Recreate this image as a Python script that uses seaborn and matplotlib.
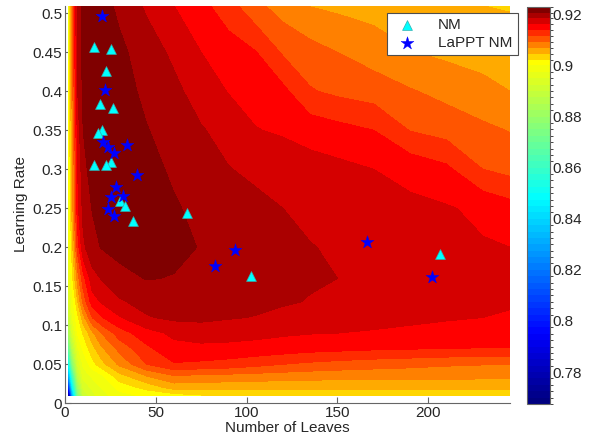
import numpy as np
import matplotlib
matplotlib.use("Agg")
import matplotlib.pyplot as plt
from matplotlib.colors import ListedColormap, BoundaryNorm
import seaborn as sns

# grid of the surface (x = number of leaves, y = learning rate)
leaves = [2, 4, 7, 10, 15, 20, 30, 45, 60, 75, 90, 105, 120, 135, 150, 170, 190, 210, 230, 245]
rates = [0.01, 0.02, 0.035, 0.05, 0.07, 0.09, 0.11, 0.13, 0.16, 0.2, 0.25, 0.3, 0.35, 0.4, 0.45, 0.51]

# accuracy, one row per learning rate
acc = [
    [0.768, 0.830, 0.875, 0.890, 0.894, 0.8965, 0.899, 0.9005, 0.9012, 0.9021, 0.9024, 0.9026, 0.9028, 0.9029, 0.903, 0.903, 0.903, 0.903, 0.903, 0.903],
    [0.800, 0.845, 0.880, 0.893, 0.8955, 0.8975, 0.9009, 0.903, 0.9055, 0.9054, 0.9053, 0.9052, 0.9051, 0.9051, 0.905, 0.905, 0.905, 0.9051, 0.9051, 0.9051],
    [0.830, 0.860, 0.888, 0.896, 0.898, 0.8995, 0.9037, 0.9069, 0.909, 0.9087, 0.9085, 0.9083, 0.9081, 0.9079, 0.9078, 0.9077, 0.9076, 0.9076, 0.9075, 0.9075],
    [0.850, 0.875, 0.893, 0.898, 0.9014, 0.9037, 0.9074, 0.9115, 0.9136, 0.9133, 0.9129, 0.9122, 0.9115, 0.911, 0.9106, 0.9102, 0.9099, 0.9095, 0.9093, 0.9092],
    [0.868, 0.886, 0.897, 0.9005, 0.9037, 0.9064, 0.9099, 0.9133, 0.9154, 0.9156, 0.9155, 0.9153, 0.915, 0.9146, 0.9144, 0.9141, 0.9139, 0.9138, 0.9137, 0.9137],
    [0.882, 0.893, 0.9005, 0.9025, 0.9064, 0.9092, 0.9127, 0.9152, 0.9166, 0.917, 0.9169, 0.9167, 0.9164, 0.9162, 0.9161, 0.9159, 0.9156, 0.9154, 0.9152, 0.915],
    [0.889, 0.8975, 0.9018, 0.906, 0.9115, 0.9136, 0.9159, 0.9182, 0.9189, 0.919, 0.9186, 0.9183, 0.9179, 0.9175, 0.9171, 0.9168, 0.9166, 0.9163, 0.9161, 0.9159],
    [0.893, 0.899, 0.9046, 0.9099, 0.915, 0.9163, 0.9181, 0.9192, 0.9196, 0.9196, 0.9193, 0.919, 0.9186, 0.9183, 0.9182, 0.9177, 0.9173, 0.9169, 0.9166, 0.9163],
    [0.896, 0.9018, 0.9081, 0.9129, 0.9175, 0.9185, 0.920, 0.9208, 0.9206, 0.9201, 0.9197, 0.9193, 0.919, 0.9186, 0.9184, 0.9179, 0.9175, 0.9171, 0.9168, 0.9166],
    [0.8975, 0.9037, 0.9127, 0.9179, 0.920, 0.9208, 0.9214, 0.9215, 0.9212, 0.9206, 0.920, 0.9194, 0.919, 0.9185, 0.9181, 0.9175, 0.917, 0.9167, 0.9163, 0.9161],
    [0.8991, 0.9058, 0.9156, 0.9191, 0.9208, 0.922, 0.9219, 0.9215, 0.9209, 0.9202, 0.9196, 0.919, 0.9184, 0.9178, 0.9173, 0.9169, 0.9166, 0.9163, 0.9156, 0.9147],
    [0.900, 0.9058, 0.9161, 0.920, 0.9216, 0.9223, 0.9221, 0.9213, 0.9204, 0.9194, 0.9185, 0.9179, 0.9175, 0.917, 0.9167, 0.9161, 0.9154, 0.9143, 0.9115, 0.9108],
    [0.900, 0.9069, 0.9173, 0.9207, 0.9221, 0.9223, 0.9219, 0.9208, 0.9198, 0.9186, 0.9175, 0.9162, 0.9158, 0.9152, 0.9146, 0.9138, 0.9114, 0.9106, 0.9097, 0.9091],
    [0.8993, 0.9081, 0.9184, 0.9212, 0.9221, 0.9221, 0.9216, 0.9202, 0.919, 0.9173, 0.916, 0.9152, 0.9144, 0.9117, 0.911, 0.9104, 0.9094, 0.9085, 0.9076, 0.9069],
    [0.8989, 0.9092, 0.9191, 0.9214, 0.9221, 0.9219, 0.9212, 0.9196, 0.9179, 0.9161, 0.915, 0.9139, 0.9112, 0.9101, 0.9092, 0.9081, 0.907, 0.9064, 0.906, 0.9058],
    [0.8989, 0.9092, 0.9196, 0.9214, 0.9219, 0.9216, 0.9202, 0.918, 0.9161, 0.9145, 0.9124, 0.9098, 0.9081, 0.9068, 0.9064, 0.906, 0.9055, 0.9051, 0.9046, 0.9044],
]

# optimiser results
nm_leaves = [16.1, 25.3, 22.3, 19.2, 26.2, 20.1, 18.0, 25.6, 16.1, 22.3, 30.2, 33.3, 37.2, 67.4, 102.2, 206.2]
nm_rate = [0.457, 0.454, 0.426, 0.384, 0.379, 0.351, 0.347, 0.310, 0.305, 0.305, 0.259, 0.253, 0.234, 0.244, 0.163, 0.191]
lappt_leaves = [20.2, 22.0, 20.7, 23.8, 27.1, 33.9, 39.9, 28.0, 25.3, 31.7, 23.8, 26.9, 82.4, 93.4, 166.1, 202.0]
lappt_rate = [0.4965, 0.402, 0.335, 0.329, 0.3205, 0.331, 0.293, 0.277, 0.265, 0.266, 0.249, 0.240, 0.176, 0.197, 0.207, 0.1615]

cbar_ticks = [0.78, 0.80, 0.82, 0.84, 0.86, 0.88, 0.90, 0.92]
cbar_labels = ['0.78', '0.8', '0.82', '0.84', '0.86', '0.88', '0.9', '0.92']


def matlab_jet(p):
    p = np.asarray(p)
    r = np.clip(np.minimum(4 * p - 1.5, -4 * p + 4.5), 0, 1)
    g = np.clip(np.minimum(4 * p - 0.5, -4 * p + 3.5), 0, 1)
    b = np.clip(np.minimum(4 * p + 0.5, -4 * p + 2.5), 0, 1)
    return np.column_stack([r, g, b])


sns.set_style("white")
plt.rcParams['font.family'] = ['Liberation Sans', 'DejaVu Sans']

# contour levels: fine below 0.9, coarser steps near the top
low_levels = np.linspace(0.7675, 0.9, 54)
high_levels = np.linspace(0.9, 0.923, 11)[1:]
levels = np.concatenate([low_levels, high_levels])
pos = np.concatenate([np.linspace(0, 0.625, 54)[:-1], np.linspace(0.625, 1.0, 10)])
cmap = ListedColormap(matlab_jet(pos))
norm = BoundaryNorm(levels, cmap.N)

fig = plt.figure(figsize=(5.92, 4.41), dpi=100)
ax = fig.add_axes([65 / 592, 37.7 / 441, 445 / 592, 397.8 / 441])
cax = fig.add_axes([527 / 592, 37 / 441, 23 / 592, 397.3 / 441])

cs = ax.contourf(leaves, rates, np.array(acc), levels=levels, cmap=cmap, norm=norm)

sns.scatterplot(x=nm_leaves, y=nm_rate, marker='^', color='cyan', s=50,
                edgecolor='#30b0b0', linewidth=0.5, label='NM', ax=ax, zorder=3)
sns.scatterplot(x=lappt_leaves, y=lappt_rate, marker='*', color='blue', s=95,
                edgecolor='blue', linewidth=0.3, label='LaPPT NM', ax=ax, zorder=4)

ax.set_xlim(0, 245)
ax.set_ylim(0, 0.51)
ax.set_xticks([0, 50, 100, 150, 200])
ax.set_yticks([0, 0.05, 0.1, 0.15, 0.2, 0.25, 0.3, 0.35, 0.4, 0.45, 0.5])
ax.set_yticklabels(['0', '0.05', '0.1', '0.15', '0.2', '0.25', '0.3', '0.35', '0.4', '0.45', '0.5'])
ax.set_xlabel('Number of Leaves', fontsize=11, labelpad=1)
ax.set_ylabel('Learning Rate', fontsize=11, labelpad=3)
ax.tick_params(direction='in', length=4, width=0.8, color='0.4', labelsize=11, pad=2,
               bottom=True, left=True)
for side in ['top', 'right']:
    ax.spines[side].set_visible(False)
for side in ['left', 'bottom']:
    ax.spines[side].set_color('0.4')
    ax.spines[side].set_linewidth(0.8)

leg = ax.legend(loc='upper right', bbox_to_anchor=(1.017, 0.982), borderaxespad=0,
                fontsize=11, frameon=True, fancybox=False, framealpha=1,
                edgecolor='0.3', handletextpad=1.0, borderpad=0.35, labelspacing=0.25)
leg.get_frame().set_linewidth(0.8)

cb = fig.colorbar(cs, cax=cax, ticks=cbar_ticks, spacing='proportional')
cb.ax.set_yticklabels(cbar_labels)
cb.ax.tick_params(direction='in', length=4, width=0.8, color='0.4', labelsize=11,
                  left=True, right=True, pad=2)
cb.outline.set_edgecolor('0.4')
cb.outline.set_linewidth(0.8)

fig.savefig('out.png', dpi=100)
